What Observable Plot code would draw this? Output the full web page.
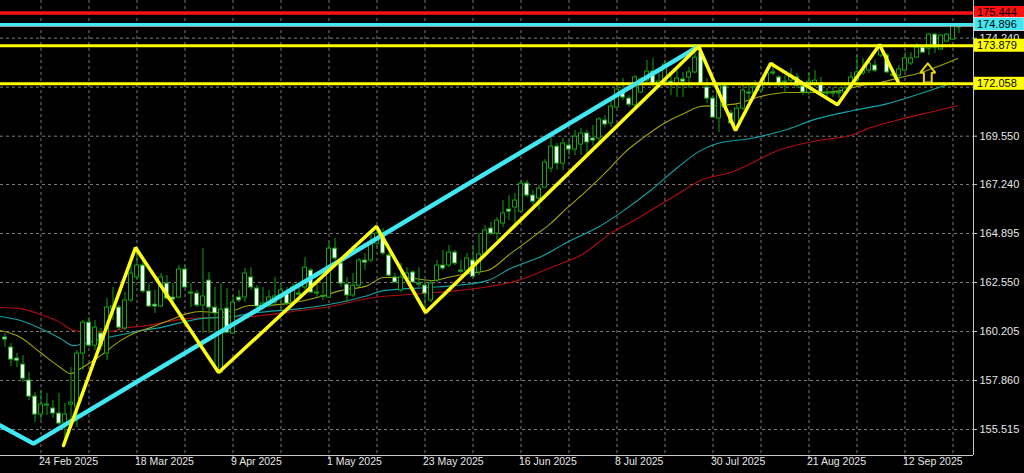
<!DOCTYPE html>
<html><head><meta charset="utf-8">
<script src="https://cdn.jsdelivr.net/npm/d3@7"></script>
<script src="https://cdn.jsdelivr.net/npm/@observablehq/plot@0.6"></script>
<style>
html,body{margin:0;padding:0;background:#000;}
#chart{width:1024px;height:473px;overflow:hidden;}
svg{display:block;}
</style></head><body><div id="chart"></div>
<script>
// Bar index 0 = 24 Feb 2025 (trading days); first bar shown is index -6
const firstBar = -6;
const open = [159.92,159.44,158.91,158.62,157.86,157.09,156.23,156.66,156.52,156.28,155.80,156.71,156.57,159.15,160.63,159.53,160.11,159.15,161.30,161.35,160.35,161.69,162.79,163.36,162.12,161.49,161.40,162.50,161.83,161.83,163.17,162.07,162.02,161.45,162.64,161.35,158.24,161.30,160.11,161.83,161.83,162.79,162.26,161.35,161.40,161.59,161.83,162.07,161.59,162.02,162.31,163.12,162.02,161.90,161.83,164.17,163.46,162.45,161.93,162.40,163.60,163.60,164.41,164.89,163.84,162.79,162.17,162.74,163.03,162.50,162.40,161.69,162.64,163.36,163.36,163.98,163.12,163.12,163.60,163.03,163.89,165.13,164.89,165.37,166.04,166.14,165.94,167.28,166.71,166.57,167.09,168.00,169.05,168.24,169.10,168.91,169.15,169.68,169.44,169.44,170.30,170.16,170.92,171.73,171.35,171.02,171.64,172.21,172.64,171.97,172.12,172.16,172.07,172.26,172.36,172.60,173.55,171.88,171.35,170.40,171.93,170.64,169.96,170.87,171.64,171.59,171.73,172.07,172.60,172.36,172.16,172.21,172.36,171.93,171.64,172.07,172.07,171.64,171.59,171.59,171.64,171.97,172.21,172.55,172.69,172.93,173.41,173.41,172.50,172.45,172.69,173.03,173.31,173.79,173.74,174.41,173.70,174.08,174.17,174.80];
const high = [160.11,159.63,159.15,159.05,158.24,157.28,157.38,157.24,156.90,157.24,156.76,158.48,159.29,160.73,160.87,160.73,160.35,161.78,162.31,161.45,162.07,163.46,164.08,163.60,162.50,162.17,162.98,162.88,162.50,163.36,163.36,162.50,162.17,164.17,163.03,162.31,162.50,162.26,161.93,162.17,163.22,163.26,162.40,162.31,162.17,162.79,162.50,162.31,162.50,162.40,163.74,163.22,162.50,162.55,164.46,164.65,163.74,162.79,162.98,163.70,163.94,165.04,165.20,165.13,163.98,162.98,163.46,163.26,163.12,163.26,162.64,162.64,163.60,164.08,164.32,164.08,163.60,163.94,164.32,164.89,165.27,165.42,165.66,166.47,166.71,166.81,167.43,167.43,166.95,167.19,168.43,169.68,169.20,169.44,169.34,169.82,169.92,169.82,170.06,170.44,170.54,171.26,171.97,172.31,171.49,172.45,172.36,173.17,173.27,172.69,173.17,172.55,172.69,172.60,172.84,173.51,173.85,172.31,171.49,172.12,172.07,170.78,171.02,171.97,171.97,172.21,172.31,172.84,173.07,172.45,172.45,172.79,172.55,172.12,172.55,172.69,172.36,171.83,171.88,171.88,172.12,172.60,173.41,173.27,173.17,173.17,173.98,173.51,172.60,172.93,173.55,173.55,173.98,173.89,174.46,174.46,174.41,174.46,174.85,174.85];
const low = [159.44,158.53,158.48,157.76,156.90,155.85,155.94,156.18,156.04,155.70,155.00,155.56,155.61,158.34,159.44,159.29,159.29,158.81,160.73,160.25,160.25,161.59,162.64,162.02,161.35,161.07,161.35,161.69,161.35,161.78,162.26,161.35,161.35,160.11,160.11,158.48,158.19,160.11,160.06,161.59,161.59,162.17,161.30,161.30,161.35,161.45,161.21,161.45,161.45,161.69,162.17,162.02,161.83,161.69,161.78,163.60,162.31,161.59,161.83,162.31,163.12,163.50,164.22,163.84,162.79,162.50,162.07,162.64,162.50,162.31,161.10,161.59,162.55,163.12,163.26,163.36,162.98,162.88,162.79,162.88,163.74,164.80,164.56,165.18,165.51,165.13,165.90,166.61,166.23,165.99,167.09,167.81,167.91,167.91,168.62,168.62,168.62,168.53,169.10,169.25,169.96,169.96,170.87,171.26,170.92,170.92,171.59,172.12,171.88,171.83,172.07,171.49,171.40,171.40,171.83,172.55,171.97,171.11,170.40,169.72,170.78,170.06,169.82,170.78,171.26,171.49,171.64,171.97,172.45,171.88,171.59,172.07,171.83,171.49,171.49,171.88,171.59,171.40,171.40,171.35,171.59,171.83,172.12,172.45,172.55,172.60,173.31,172.55,172.36,172.21,172.60,172.93,173.27,173.51,173.41,173.51,173.65,174.03,174.13,174.46];
const close = [159.82,158.86,158.81,157.95,157.09,156.23,156.71,156.71,156.28,155.80,156.23,156.80,159.15,160.63,159.53,160.39,159.53,161.35,161.40,160.39,161.69,162.98,163.36,162.12,161.40,161.40,162.79,161.78,161.73,163.17,162.31,162.02,161.45,161.88,161.35,161.07,161.25,160.15,161.59,161.69,162.98,162.31,161.40,161.54,161.83,161.88,162.17,161.54,162.31,161.97,163.26,162.07,162.07,161.86,164.17,163.70,162.50,161.93,162.40,163.60,163.50,164.41,164.89,163.94,162.88,162.55,162.79,162.98,162.55,162.45,162.02,162.50,163.36,163.22,163.98,163.46,163.07,163.70,162.83,163.89,165.04,164.89,165.51,165.85,165.94,166.47,167.28,166.71,166.42,167.04,168.29,169.05,168.24,169.20,168.91,169.53,169.68,169.25,169.34,170.35,170.11,170.97,171.78,171.40,171.06,172.36,172.26,172.64,172.07,172.16,172.98,172.07,172.31,172.16,172.60,173.31,172.07,171.35,170.44,171.97,170.92,170.16,170.87,171.73,171.59,171.88,172.02,172.55,172.55,172.07,172.14,172.45,171.97,171.64,172.16,172.21,171.64,171.59,171.62,171.64,171.83,172.36,172.60,172.69,173.03,172.69,173.84,172.60,172.45,172.74,173.27,173.27,173.79,173.55,174.41,173.79,174.37,174.41,174.80,174.75];

// Axes
const dateTickBars = [0,16,32,48,64,80,96,112,128,144];
const dateTickLabels = ["24 Feb 2025","18 Mar 2025","9 Apr 2025","1 May 2025","23 May 2025","16 Jun 2025","8 Jul 2025","30 Jul 2025","21 Aug 2025","12 Sep 2025"];
const gridBars = [0,8,16,24,32,40,48,56,64,72,80,88,96,104,112,120,128,136,144,152];
const priceTicks = [155.515,157.860,160.205,162.550,164.895,167.240,169.550,171.895,174.240];
// the 171.895 label sits fully under the 172.058 level box in the reference, so it is left blank
const priceTickLabels = ["155.515","157.860","160.205","162.550","164.895","167.240","169.550","","174.240"];

// Moving averages
const maFastBars = [-6.75,-3.4,-0.1,3.25,4.9,6.6,9.9,13.25,15.4,18.25,22.1,24.4,26.6,29.4,32.1,34.75,36.1,41.1,47.1,49.9,54.4,57.1,59.4,62.1,65.4,67.75,71.1,74.4,78.25,82.75,84.9,87.75,90.4,94.9,97.1,100.4,103.75,107.1,109.9,112.75,116.1,119.9,124.4,129.9,133.25,136.6,139.9,143.25,146.6,149.9,152.75];
const maFastValues = [160.25,159.92,159.20,158.48,158.19,158.43,159.05,159.77,160.11,160.39,160.82,161.06,161.16,161.11,161.21,161.45,161.45,161.54,161.92,162.16,162.40,162.79,162.79,162.74,162.64,162.79,162.98,163.12,163.93,164.89,165.37,166.13,166.80,168.05,168.72,169.48,170.15,170.63,170.97,171.02,171.11,171.45,171.64,171.64,171.73,171.97,172.12,172.36,172.59,172.93,173.27];
const maMidBars = [-6.75,-3.4,-0.1,3.25,5.4,7.75,11.1,14.4,16.6,19.9,23.25,26.6,32.1,34.75,43.25,47.1,54.4,57.1,64.4,68.75,74.4,78.25,83.75,88.25,92.75,97.1,101.6,106.1,109.9,112.75,118.25,123.75,129.4,135.4,141.1,146.6,152.1];
const maMidValues = [160.92,160.73,160.35,159.87,159.53,159.68,159.92,160.11,160.25,160.39,160.63,160.82,160.92,161.06,161.30,161.45,161.92,162.16,162.31,162.40,162.64,163.22,163.84,164.56,165.18,165.99,166.95,168.05,168.86,169.20,169.44,169.82,170.39,170.78,171.11,171.59,172.12];
const maSlowBars = [-6.75,-3.4,-0.1,3.25,5.4,7.75,11.1,14.4,17.75,21.1,24.4,27.75,34.75,43.25,47.1,55.4,63.75,69.4,74.75,79.4,84.9,90.4,94.9,99.4,103.75,107.1,109.9,114.9,123.75,129.4,134.9,138.25,143.75,149.4,152.75];
const maSlowValues = [161.35,161.30,161.02,160.63,160.25,160.20,160.20,160.39,160.49,160.68,160.82,160.87,160.92,161.21,161.35,161.83,162.02,162.16,162.36,162.64,163.26,163.93,164.89,165.61,166.37,166.95,167.43,167.81,168.96,169.34,169.58,169.96,170.39,170.78,171.02];

// Drawn objects
const cyanTrendBars = [-6.75,-1.25,109.3];
const cyanTrendValues = [155.70,154.84,173.80];
const zigzagBars = [3.75,15.75,29.6,55.9,64.1,109.6,115.75,121.6,132.75,139.75,142.9];
const zigzagValues = [154.75,164.22,158.24,165.23,161.11,173.84,169.82,173.03,171.06,173.93,172.12];
const levelValues = [175.444,174.896,173.879,172.058];
const levelLabels = ["175.444","174.896","173.879","172.058"];
const levelColors = ["#ff1010","#3fe8f2","#ffff00","#ffff00"];
const levelWidths = [3.5,3,3,3];
const bidPrice = 174.80;
const arrowBars = [147.8,149.05,148.45,148.45,147.15,147.15,146.55,147.8];
const arrowValues = [173.03,172.59,172.59,172.12,172.12,172.59,172.59,173.03];

const green = "#12a212";
const bars = close.map((c, k) => ({i: firstBar + k, o: open[k], h: high[k], l: low[k], c}));
const pts = (xs, ys) => xs.map((x, k) => [x, ys[k]]);
const xMin = -6.75, xMax = 155.4167, yMin = 154.272, yMax = 176.043;
const dateLabel = new Map(dateTickBars.map((b, k) => [b, dateTickLabels[k]]));
const priceLabel = new Map(priceTicks.map((p, k) => [p, priceTickLabels[k]]));

const chart = Plot.plot({
  width: 1024, height: 473,
  marginLeft: 0, marginRight: 51, marginTop: 0, marginBottom: 18,
  style: {background: "#000", color: "#e6e6e6", fontFamily: "'Liberation Sans', Arial, sans-serif", fontSize: "11px", overflow: "visible"},
  x: {type: "linear", domain: [xMin, xMax], axis: null, label: null},
  y: {type: "linear", domain: [yMin, yMax], axis: null, label: null},
  marks: [
    Plot.ruleY(priceTicks, {stroke: "#7c7c7c", strokeDasharray: "3,3"}),
    Plot.ruleX(gridBars, {stroke: "#7c7c7c", strokeDasharray: "3,3"}),
    Plot.line(pts(maSlowBars, maSlowValues), {stroke: "#b00c0c", strokeWidth: 1.1, curve: "monotone-x"}),
    Plot.line(pts(maMidBars, maMidValues), {stroke: "#10a3a8", strokeWidth: 1.1, curve: "monotone-x"}),
    Plot.line(pts(maFastBars, maFastValues), {stroke: "#a3a30c", strokeWidth: 1.1, curve: "monotone-x"}),
    Plot.ruleX(bars, {x: "i", y1: "l", y2: "h", stroke: green, strokeWidth: 1}),
    Plot.rect(bars, {x1: d => d.i - 1/3, x2: d => d.i + 1/3, y1: "o", y2: "c",
      fill: d => d.c >= d.o ? "#000" : "#f0fff0", stroke: green, strokeWidth: 1}),
    Plot.ruleY([bidPrice], {stroke: "#9a9a9a", strokeWidth: 1}),
    ...levelValues.map((v, k) => Plot.ruleY([v], {stroke: levelColors[k], strokeWidth: levelWidths[k]})),
    Plot.line(pts(cyanTrendBars, cyanTrendValues), {stroke: "#3fe8f2", strokeWidth: 4.5, strokeLinejoin: "miter"}),
    Plot.line(pts(zigzagBars, zigzagValues), {stroke: "#ffff14", strokeWidth: 3.5, strokeLinejoin: "miter"}),
    Plot.line(pts(arrowBars, arrowValues), {stroke: "#e8d800", strokeWidth: 2, strokeLinejoin: "miter"}),
    Plot.ruleX([xMax], {stroke: "#c8c8c8", strokeWidth: 1}),
    Plot.ruleY([yMin], {stroke: "#c8c8c8", strokeWidth: 1}),
    Plot.axisY(priceTicks, {anchor: "right", label: null, tickFormat: d => priceLabel.get(d), tickSize: 3, tickPadding: 3, fontSize: 11, stroke: "#c8c8c8", fill: "#e6e6e6"}),
    Plot.axisX(dateTickBars, {anchor: "bottom", label: null, tickFormat: () => "", tickSize: 4, stroke: "#c8c8c8"}),
    Plot.text(dateTickBars, {x: d => d, frameAnchor: "bottom", dy: 9, dx: -2, text: d => dateLabel.get(d), textAnchor: "start", fill: "#e6e6e6", fontSize: 10.5})
  ]
});

// price labels for the horizontal levels, positioned with the plot's own y scale
const yScale = chart.scale("y");
const svg = d3.select(chart.tagName.toLowerCase() === "svg" ? chart : chart.querySelector("svg"));
const g = svg.append("g").attr("text-anchor", "start");
levelValues.forEach((v, k) => {
  const yy = yScale.apply(v);
  g.append("rect").attr("x", 974).attr("y", yy - 6.5).attr("width", 50).attr("height", 13)
    .attr("fill", levelColors[k]).attr("stroke", k === 1 ? "#d8d8d8" : "none");
  g.append("text").attr("x", 977).attr("y", yy).attr("dy", "0.35em").attr("text-anchor", "start")
    .attr("fill", "#000").attr("font-size", 11).attr("font-family", "'Liberation Sans', Arial, sans-serif")
    .text(levelLabels[k]);
});
document.getElementById("chart").appendChild(chart);
</script>
</body></html>
